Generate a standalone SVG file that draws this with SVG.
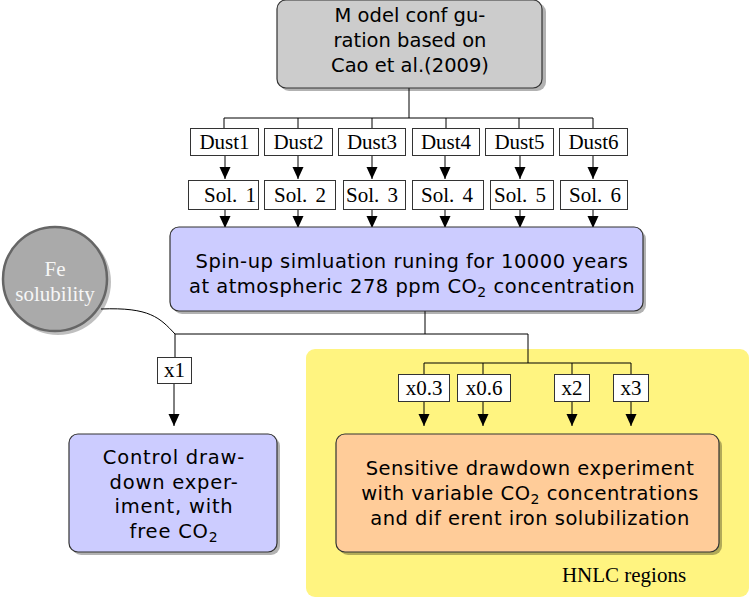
<svg xmlns="http://www.w3.org/2000/svg" width="749" height="597" viewBox="0 0 749 597">
<style>
.sans{font-family:"DejaVu Sans",sans-serif;font-size:19.5px;fill:#000;text-anchor:middle}
.wide{letter-spacing:0.5px}
.serif{font-family:"Liberation Serif",serif;font-size:21px;fill:#000;text-anchor:middle}
.lbl{fill:#fff;stroke:#333;stroke-width:1}
.shadow{fill:#000;opacity:0.3}
.conn{fill:none;stroke:#000;stroke-width:1}
.node{stroke:#333;stroke-width:1.2}
</style>
<defs>
<marker id="arr" viewBox="0 0 12 12" refX="12" refY="6" markerWidth="12" markerHeight="12" markerUnits="userSpaceOnUse" orient="auto">
<path d="M0,0.5 L12,6 L0,11.5 z" fill="#000"/>
</marker>
</defs>
<rect id="hnlc" x="306" y="349" width="443" height="248" rx="9" fill="#fff480"/>
<g id="connectors">
<path class="conn" d="M409,88 V118 M224,118 H593 M224,118 V128 M298,118 V128 M372,118 V128 M446,118 V128 M519,118 V128 M593,118 V128"/>
<line class="conn" x1="225" y1="156" x2="225" y2="179" marker-end="url(#arr)"/>
<line class="conn" x1="298" y1="156" x2="298" y2="179" marker-end="url(#arr)"/>
<line class="conn" x1="372" y1="156" x2="372" y2="179" marker-end="url(#arr)"/>
<line class="conn" x1="445" y1="156" x2="445" y2="179" marker-end="url(#arr)"/>
<line class="conn" x1="520" y1="156" x2="520" y2="179" marker-end="url(#arr)"/>
<line class="conn" x1="593" y1="156" x2="593" y2="179" marker-end="url(#arr)"/>
<line class="conn" x1="225" y1="209" x2="225" y2="228" marker-end="url(#arr)"/>
<line class="conn" x1="298" y1="209" x2="298" y2="228" marker-end="url(#arr)"/>
<line class="conn" x1="372" y1="209" x2="372" y2="228" marker-end="url(#arr)"/>
<line class="conn" x1="445" y1="209" x2="445" y2="228" marker-end="url(#arr)"/>
<line class="conn" x1="520" y1="209" x2="520" y2="228" marker-end="url(#arr)"/>
<line class="conn" x1="593" y1="209" x2="593" y2="228" marker-end="url(#arr)"/>
<path class="conn" d="M425,311 V334 M175,334 H528 M175,334 V358 M528,334 V363 M424,363 H631 M424,363 V374 M483,363 V374 M572,363 V374 M631,363 V374"/>
<path class="conn" d="M101,309 C150,307 160,318 175,334"/>
<line class="conn" x1="174" y1="384" x2="174" y2="426" marker-end="url(#arr)"/>
<line class="conn" x1="424" y1="402" x2="424" y2="426" marker-end="url(#arr)"/>
<line class="conn" x1="483" y1="402" x2="483" y2="426" marker-end="url(#arr)"/>
<line class="conn" x1="572" y1="402" x2="572" y2="426" marker-end="url(#arr)"/>
<line class="conn" x1="631" y1="402" x2="631" y2="426" marker-end="url(#arr)"/>
</g>
<g id="model">
<rect class="shadow" x="280" y="3" width="266" height="88" rx="9"/>
<rect class="node" x="277" y="0" width="265" height="88" rx="9" fill="#cccccc"/>
<text class="sans" x="410" y="22">M odel conf gu-</text>
<text class="sans" x="410" y="47">ration based on</text>
<text class="sans" x="410" y="72">Cao et al.(2009)</text>
</g>
<g id="dust1"><rect class="lbl" x="190.5" y="128.5" width="68" height="27"/><text class="serif" x="224.5" y="149">Dust1</text></g>
<g id="dust2"><rect class="lbl" x="264.5" y="128.5" width="68" height="27"/><text class="serif" x="298.5" y="149">Dust2</text></g>
<g id="dust3"><rect class="lbl" x="338.5" y="128.5" width="67" height="27"/><text class="serif" x="372" y="149">Dust3</text></g>
<g id="dust4"><rect class="lbl" x="412.5" y="128.5" width="67" height="27"/><text class="serif" x="446" y="149">Dust4</text></g>
<g id="dust5"><rect class="lbl" x="485.5" y="128.5" width="68" height="27"/><text class="serif" x="519.5" y="149">Dust5</text></g>
<g id="dust6"><rect class="lbl" x="559.5" y="128.5" width="68" height="27"/><text class="serif" x="593.5" y="149">Dust6</text></g>
<g id="sol1"><rect class="lbl" x="188.5" y="180.5" width="70" height="29"/><text class="serif" x="230" y="202" word-spacing="3">Sol. 1</text></g>
<g id="sol2"><rect class="lbl" x="264.5" y="180.5" width="71" height="29"/><text class="serif" x="300" y="202" word-spacing="3">Sol. 2</text></g>
<g id="sol3"><rect class="lbl" x="343.5" y="180.5" width="62" height="29"/><text class="serif" x="372" y="202" word-spacing="3">Sol. 3</text></g>
<g id="sol4"><rect class="lbl" x="412.5" y="180.5" width="71" height="29"/><text class="serif" x="447" y="202" word-spacing="3">Sol. 4</text></g>
<g id="sol5"><rect class="lbl" x="490.5" y="180.5" width="63" height="29"/><text class="serif" x="520" y="202" word-spacing="3">Sol. 5</text></g>
<g id="sol6"><rect class="lbl" x="560.5" y="180.5" width="67" height="29"/><text class="serif" x="595" y="202" word-spacing="3">Sol. 6</text></g>
<g id="spinup">
<rect class="shadow" x="173" y="230" width="473" height="84" rx="9"/>
<rect class="node" x="170" y="227" width="473" height="84" rx="9" fill="#ccccff"/>
<text class="sans wide" x="412" y="268">Spin-up simluation runing for 10000 years</text>
<text class="sans wide" x="412" y="293">at atmospheric 278 ppm CO<tspan font-size="14" dy="4">2</tspan><tspan dy="-4"> concentration</tspan></text>
</g>
<g id="fe">
<circle cx="58" cy="282" r="53" fill="#000" opacity="0.25"/>
<circle cx="55" cy="279" r="52" fill="#aaaaaa" stroke="#666" stroke-width="2.5"/>
<text class="serif" x="55" y="276" style="fill:#f6f6f6" font-size="20">Fe</text>
<text class="serif" x="55" y="301" style="fill:#f6f6f6" font-size="20">solubility</text>
</g>
<g id="x1"><rect class="lbl" x="157.5" y="357.5" width="34" height="26"/><text class="serif" x="174.5" y="377">x1</text></g>
<g id="control">
<rect class="shadow" x="72" y="437" width="208" height="118" rx="9"/>
<rect class="node" x="69" y="434" width="208" height="118" rx="9" fill="#ccccff"/>
<text class="sans" x="174" y="464" letter-spacing="0.8">Control draw-</text>
<text class="sans" x="174" y="489" letter-spacing="0.8">down exper-</text>
<text class="sans" x="174" y="513" letter-spacing="0.8">iment, with</text>
<text class="sans" x="174" y="538" letter-spacing="0.8">free CO<tspan font-size="14" dy="4">2</tspan></text>
</g>
<g id="x03"><rect class="lbl" x="398.5" y="374.5" width="51" height="27"/><text class="serif" x="424" y="395">x0.3</text></g>
<g id="x06"><rect class="lbl" x="457.5" y="374.5" width="53" height="27"/><text class="serif" x="484" y="395">x0.6</text></g>
<g id="x2"><rect class="lbl" x="554.5" y="374.5" width="35" height="27"/><text class="serif" x="572" y="395">x2</text></g>
<g id="x3"><rect class="lbl" x="613.5" y="374.5" width="35" height="27"/><text class="serif" x="631" y="395">x3</text></g>
<g id="sensitive">
<rect class="shadow" x="339" y="437" width="383" height="118" rx="9"/>
<rect class="node" x="336" y="434" width="383" height="118" rx="9" fill="#ffcc99"/>
<text class="sans wide" x="530" y="475">Sensitive drawdown experiment</text>
<text class="sans wide" x="530" y="500">with variable CO<tspan font-size="14" dy="4">2</tspan><tspan dy="-4"> concentrations</tspan></text>
<text class="sans wide" x="530" y="525">and dif erent iron solubilization</text>
</g>
<text id="hnlc-label" class="serif" x="624" y="582" font-size="19.5">HNLC regions</text>
</svg>
